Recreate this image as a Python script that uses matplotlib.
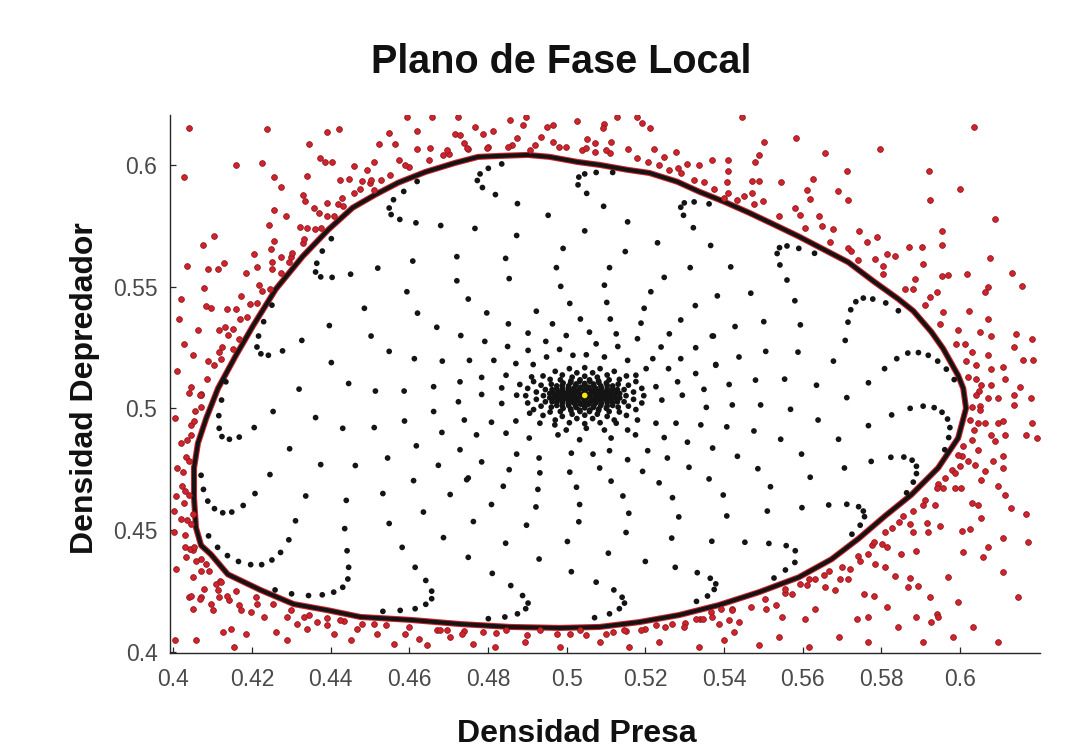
import numpy as np
import matplotlib
matplotlib.use("Agg")
import matplotlib.pyplot as plt

plt.rcParams['font.family'] = ['Liberation Sans', 'DejaVu Sans']

# ---------------- data ----------------
titulo = "Plano de Fase Local"
etiqueta_x = "Densidad Presa"
etiqueta_y = "Densidad Depredador"

xticks = [0.40, 0.42, 0.44, 0.46, 0.48, 0.50, 0.52, 0.54, 0.56, 0.58, 0.60]
xtick_labels = ['0.4', '0.42', '0.44', '0.46', '0.48', '0.5', '0.52', '0.54', '0.56', '0.58', '0.6']
yticks = [0.40, 0.45, 0.50, 0.55, 0.60]
ytick_labels = ['0.4', '0.45', '0.5', '0.55', '0.6']

equilibrio = (0.5046, 0.5053)

# closed orbit (limit cycle), clockwise from the left-most point
ciclo = [
    (0.4053, 0.4755), (0.4053, 0.4633), (0.4058, 0.4510), (0.4071, 0.4437), (0.4096, 0.4400),
    (0.4139, 0.4318), (0.4223, 0.4253), (0.4306, 0.4196), (0.4392, 0.4171), (0.4476, 0.4143),
    (0.4603, 0.4131), (0.4729, 0.4114), (0.4856, 0.4102), (0.4982, 0.4098), (0.5084, 0.4102),
    (0.5185, 0.4122), (0.5286, 0.4151), (0.5387, 0.4192), (0.5489, 0.4245), (0.5590, 0.4306),
    (0.5673, 0.4380), (0.5742, 0.4465), (0.5810, 0.4559), (0.5876, 0.4645), (0.5944, 0.4755),
    (0.5995, 0.4878), (0.6015, 0.5000), (0.6008, 0.5082), (0.5995, 0.5135), (0.5957, 0.5245),
    (0.5927, 0.5314), (0.5881, 0.5400), (0.5843, 0.5449), (0.5780, 0.5522), (0.5716, 0.5600),
    (0.5653, 0.5653), (0.5590, 0.5706), (0.5527, 0.5755), (0.5463, 0.5804), (0.5400, 0.5849),
    (0.5337, 0.5890), (0.5281, 0.5931), (0.5210, 0.5967), (0.5154, 0.5980), (0.5084, 0.6000),
    (0.5028, 0.6012), (0.4957, 0.6033), (0.4901, 0.6041), (0.4830, 0.6037), (0.4775, 0.6033),
    (0.4716, 0.6008), (0.4641, 0.5971), (0.4572, 0.5927), (0.4514, 0.5878), (0.4456, 0.5824),
    (0.4395, 0.5735), (0.4329, 0.5624), (0.4261, 0.5490), (0.4203, 0.5339), (0.4159, 0.5216),
    (0.4114, 0.5082), (0.4084, 0.4959), (0.4063, 0.4857), (0.4053, 0.4755),
]

# black trajectory samples (spiral arms)
espiral = [
    (0.4620, 0.5932), (0.4586, 0.5891), (0.4560, 0.5857), (0.4549, 0.5823), (0.4554, 0.5796),
    (0.4576, 0.5776), (0.4617, 0.5762), (0.4680, 0.5751), (0.4609, 0.5605), (0.4520, 0.5576),
    (0.4451, 0.5551), (0.4404, 0.5538), (0.4375, 0.5540), (0.4362, 0.5560), (0.4365, 0.5596),
    (0.4379, 0.5646), (0.4402, 0.5697), (0.4594, 0.5479), (0.4486, 0.5411), (0.4621, 0.5391),
    (0.4670, 0.5333), (0.4397, 0.5340), (0.4503, 0.5297), (0.4327, 0.5279), (0.4217, 0.5297),
    (0.4230, 0.5356), (0.4251, 0.5424), (0.4213, 0.5252), (0.4223, 0.5224), (0.4242, 0.5218),
    (0.4278, 0.5236), (0.4549, 0.5234), (0.4613, 0.5204), (0.4684, 0.5194), (0.4402, 0.5188),
    (0.4801, 0.5986), (0.4835, 0.6004), (0.4780, 0.5963), (0.4773, 0.5936), (0.4786, 0.5907),
    (0.4819, 0.5878), (0.4875, 0.5841), (0.4767, 0.5739), (0.4873, 0.5710), (0.4953, 0.5793),
    (0.4721, 0.5623), (0.4845, 0.5616), (0.4991, 0.5657), (0.5046, 0.5729), (0.5094, 0.5830),
    (0.5155, 0.5766), (0.5051, 0.5883), (0.5029, 0.5918), (0.5031, 0.5950), (0.5046, 0.5963),
    (0.5075, 0.5969), (0.5117, 0.5969), (0.5299, 0.5844), (0.5290, 0.5826), (0.5297, 0.5793),
    (0.5324, 0.5848), (0.5322, 0.5742), (0.5231, 0.5680), (0.5149, 0.5644), (0.4974, 0.5578),
    (0.5109, 0.5578), (0.5314, 0.5578), (0.5248, 0.5538), (0.4854, 0.5533), (0.4721, 0.5524),
    (0.4985, 0.5501), (0.5096, 0.5506),
    (0.5362, 0.5840), (0.5366, 0.5669), (0.5417, 0.5581), (0.5541, 0.5660), (0.5560, 0.5667),
    (0.5590, 0.5657), (0.5535, 0.5636), (0.5542, 0.5589), (0.5560, 0.5527), (0.5580, 0.5442),
    (0.5630, 0.5637), (0.5468, 0.5473), (0.5383, 0.5462), (0.5428, 0.5336), (0.5501, 0.5356),
    (0.5594, 0.5343), (0.5373, 0.5297), (0.5506, 0.5234), (0.5588, 0.5231), (0.5438, 0.5211),
    (0.5379, 0.5177), (0.5678, 0.5194), (0.5708, 0.5279), (0.5715, 0.5354), (0.5722, 0.5405),
    (0.5735, 0.5438), (0.5754, 0.5453), (0.5778, 0.5449), (0.5811, 0.5433), (0.5843, 0.5401),
    (0.5839, 0.5204), (0.5867, 0.5227), (0.5894, 0.5229), (0.5919, 0.5218), (0.5943, 0.5194),
    (0.5965, 0.5161), (0.5985, 0.5118), (0.5808, 0.5163), (0.5767, 0.5105), (0.5635, 0.5095),
    (0.5554, 0.5120), (0.5480, 0.5116), (0.5413, 0.5098), (0.5349, 0.5078), (0.5712, 0.5044),
    (0.5493, 0.5014), (0.5569, 0.4996), (0.5639, 0.4952), (0.5767, 0.4929), (0.5826, 0.4973),
    (0.5873, 0.5000), (0.5906, 0.5009), (0.5934, 0.5003), (0.5954, 0.4984), (0.5968, 0.4956),
    (0.5974, 0.4921), (0.5971, 0.4880), (0.5961, 0.4830), (0.5544, 0.4873), (0.5691, 0.4873),
    (0.5597, 0.4812), (0.5774, 0.4782), (0.5706, 0.4755), (0.5824, 0.4799), (0.5857, 0.4800),
    (0.5878, 0.4787), (0.5889, 0.4762), (0.5889, 0.4732), (0.5881, 0.4697), (0.5864, 0.4653),
    (0.5619, 0.4717), (0.5518, 0.4678), (0.5598, 0.4592), (0.5666, 0.4603), (0.5712, 0.4606),
    (0.5742, 0.4596), (0.5754, 0.4578), (0.5757, 0.4555), (0.5746, 0.4520), (0.5725, 0.4483),
    (0.5510, 0.4578), (0.5514, 0.4445), (0.5558, 0.4436), (0.5581, 0.4415),
    (0.5355, 0.5004), (0.5421, 0.5014), (0.5341, 0.4932), (0.5407, 0.4924), (0.5476, 0.4907),
    (0.5371, 0.4837), (0.5434, 0.4803), (0.5486, 0.4752), (0.5362, 0.4710), (0.5398, 0.4644),
    (0.5407, 0.4558), (0.5369, 0.4454), (0.5453, 0.4450), (0.5332, 0.4325), (0.5365, 0.4302),
    (0.5379, 0.4279), (0.5375, 0.4256), (0.5358, 0.4229), (0.5330, 0.4207), (0.5556, 0.4336),
    (0.5527, 0.4303), (0.5580, 0.4367),
    (0.5214, 0.5479), (0.4750, 0.5449), (0.5008, 0.5431), (0.5102, 0.5435), (0.5197, 0.5411),
    (0.5327, 0.5422), (0.4797, 0.5392), (0.4923, 0.5399), (0.5035, 0.5367), (0.5111, 0.5367),
    (0.5290, 0.5363), (0.4852, 0.5347), (0.4964, 0.5347), (0.5189, 0.5350), (0.4731, 0.5299),
    (0.4902, 0.5309), (0.4999, 0.5299), (0.5058, 0.5313), (0.5126, 0.5306), (0.5261, 0.5306),
    (0.5370, 0.5297), (0.4792, 0.5275), (0.4947, 0.5275), (0.5180, 0.5286), (0.4850, 0.5254),
    (0.4902, 0.5238), (0.4982, 0.5242), (0.5075, 0.5265), (0.5130, 0.5254), (0.5240, 0.5252),
    (0.5328, 0.5249), (0.4753, 0.5197), (0.4815, 0.5197), (0.4871, 0.5184), (0.4915, 0.5180),
    (0.4949, 0.5211), (0.5016, 0.5218), (0.5050, 0.5220), (0.5096, 0.5211), (0.5155, 0.5197),
    (0.5219, 0.5204), (0.5290, 0.5204), (0.5379, 0.5180), (0.4729, 0.5109), (0.4784, 0.5127),
    (0.4835, 0.5084), (0.4846, 0.5136), (0.4881, 0.5098), (0.4911, 0.5129), (0.5176, 0.5136),
    (0.5202, 0.5163), (0.5227, 0.5089), (0.5259, 0.5163), (0.5282, 0.5109), (0.5328, 0.5143),
    (0.4725, 0.5027), (0.4784, 0.5057), (0.4835, 0.5020), (0.4873, 0.5054), (0.5242, 0.5034),
    (0.5294, 0.5054), (0.4740, 0.4952), (0.4809, 0.4943), (0.4871, 0.4948), (0.4906, 0.4980),
    (0.4932, 0.4939), (0.4970, 0.4932), (0.4999, 0.4911), (0.5050, 0.4918), (0.5096, 0.4911),
    (0.5126, 0.4939), (0.5155, 0.4911), (0.5180, 0.4952), (0.5227, 0.4939), (0.5278, 0.4939),
    (0.4771, 0.4891), (0.4846, 0.4898), (0.4905, 0.4878), (0.4978, 0.4891), (0.5033, 0.4871),
    (0.5113, 0.4878), (0.5175, 0.4891), (0.5248, 0.4880), (0.5307, 0.4861), (0.4729, 0.4830),
    (0.4873, 0.4812), (0.4930, 0.4796), (0.5012, 0.4816), (0.5067, 0.4812), (0.5109, 0.4826),
    (0.5155, 0.4789), (0.5206, 0.4826), (0.4784, 0.4780), (0.4854, 0.4748), (0.4932, 0.4735),
    (0.5008, 0.4738), (0.5084, 0.4755), (0.5193, 0.4741), (0.5256, 0.4796), (0.5311, 0.4758),
    (0.4750, 0.4714), (0.4839, 0.4680), (0.4927, 0.4667), (0.5025, 0.4676), (0.5113, 0.4701),
    (0.5235, 0.4694), (0.4704, 0.4646), (0.5143, 0.4640), (0.5269, 0.4633),
    (0.4446, 0.5102), (0.4320, 0.5079), (0.4514, 0.5071), (0.4587, 0.5071), (0.4662, 0.5089),
    (0.4254, 0.4987), (0.4362, 0.4962), (0.4431, 0.4918), (0.4511, 0.4921), (0.4588, 0.4948),
    (0.4662, 0.4987), (0.4683, 0.4901), (0.4206, 0.4921), (0.4168, 0.4882), (0.4143, 0.4873),
    (0.4124, 0.4884), (0.4117, 0.4918), (0.4116, 0.4970), (0.4123, 0.5034), (0.4134, 0.5109),
    (0.4296, 0.4834), (0.4375, 0.4769), (0.4463, 0.4765), (0.4545, 0.4796), (0.4618, 0.4846),
    (0.4674, 0.4766), (0.4246, 0.4728), (0.4611, 0.4703), (0.4337, 0.4640), (0.4440, 0.4622),
    (0.4533, 0.4650), (0.4636, 0.4574), (0.4208, 0.4650), (0.4178, 0.4601), (0.4149, 0.4574),
    (0.4126, 0.4571), (0.4105, 0.4588), (0.4088, 0.4619), (0.4077, 0.4667), (0.4071, 0.4725),
    (0.4311, 0.4538), (0.4436, 0.4506), (0.4549, 0.4527), (0.4582, 0.4429), (0.4294, 0.4460),
    (0.4273, 0.4408), (0.4251, 0.4377), (0.4225, 0.4358), (0.4197, 0.4358), (0.4166, 0.4371),
    (0.4138, 0.4395), (0.4113, 0.4429), (0.4090, 0.4476), (0.4442, 0.4415), (0.4446, 0.4347),
    (0.4444, 0.4299), (0.4431, 0.4265), (0.4408, 0.4245), (0.4379, 0.4234), (0.4344, 0.4231),
    (0.4301, 0.4238), (0.4259, 0.4254), (0.4615, 0.4347), (0.4642, 0.4293), (0.4657, 0.4249),
    (0.4657, 0.4218), (0.4642, 0.4195), (0.4687, 0.4469),
    (0.4763, 0.4535), (0.4750, 0.4388), (0.4746, 0.4707), (0.4615, 0.4177), (0.4577, 0.4170),
    (0.4533, 0.4166),
    (0.4809, 0.4605), (0.4922, 0.4595), (0.5033, 0.4605), (0.4898, 0.4520), (0.5031, 0.4534),
    (0.5158, 0.4569), (0.5285, 0.4554), (0.4845, 0.4446), (0.5002, 0.4453), (0.5151, 0.4490),
    (0.5267, 0.4467), (0.4930, 0.4381), (0.5106, 0.4405), (0.5200, 0.4371), (0.5276, 0.4347),
    (0.4811, 0.4322), (0.5012, 0.4329), (0.5075, 0.4286), (0.5120, 0.4254), (0.5141, 0.4224),
    (0.5147, 0.4200), (0.5134, 0.4177), (0.5109, 0.4156), (0.4858, 0.4272), (0.4888, 0.4231),
    (0.4902, 0.4200), (0.4896, 0.4177), (0.4875, 0.4156), (0.4843, 0.4143), (0.4801, 0.4136),
    (0.5071, 0.4140),
]

nucleo = [
    (0.5196, 0.5052), (0.5191, 0.5082), (0.5176, 0.5110), (0.5152, 0.5133), (0.5121, 0.5152),
    (0.5085, 0.5163), (0.5046, 0.5167), (0.5007, 0.5163), (0.4971, 0.5152), (0.4940, 0.5133),
    (0.4916, 0.5110), (0.4901, 0.5082), (0.4896, 0.5052), (0.4901, 0.5022), (0.4916, 0.4995),
    (0.4940, 0.4971), (0.4971, 0.4952), (0.5007, 0.4941), (0.5046, 0.4937), (0.5085, 0.4941),
    (0.5121, 0.4952), (0.5152, 0.4971), (0.5176, 0.4995), (0.5191, 0.5022),
    (0.5170, 0.5067), (0.5157, 0.5095), (0.5134, 0.5119), (0.5103, 0.5137), (0.5066, 0.5146),
    (0.5026, 0.5146), (0.4989, 0.5137), (0.4958, 0.5119), (0.4935, 0.5095), (0.4923, 0.5067),
    (0.4923, 0.5037), (0.4935, 0.5009), (0.4958, 0.4985), (0.4989, 0.4967), (0.5026, 0.4958),
    (0.5066, 0.4958), (0.5103, 0.4967), (0.5134, 0.4985), (0.5157, 0.5009), (0.5170, 0.5037),
    (0.5151, 0.5052), (0.5146, 0.5077), (0.5131, 0.5099), (0.5108, 0.5117), (0.5078, 0.5128),
    (0.5046, 0.5132), (0.5014, 0.5128), (0.4984, 0.5117), (0.4961, 0.5099), (0.4946, 0.5077),
    (0.4941, 0.5052), (0.4946, 0.5027), (0.4961, 0.5005), (0.4984, 0.4987), (0.5014, 0.4976),
    (0.5046, 0.4972), (0.5078, 0.4976), (0.5108, 0.4987), (0.5131, 0.5005), (0.5146, 0.5027),
    (0.5135, 0.5061), (0.5129, 0.5077), (0.5117, 0.5092), (0.5101, 0.5104), (0.5081, 0.5113),
    (0.5058, 0.5117), (0.5034, 0.5117), (0.5011, 0.5113), (0.4991, 0.5104), (0.4975, 0.5092),
    (0.4963, 0.5077), (0.4957, 0.5061), (0.4957, 0.5043), (0.4963, 0.5027), (0.4975, 0.5012),
    (0.4991, 0.5000), (0.5011, 0.4991), (0.5034, 0.4987), (0.5058, 0.4987), (0.5081, 0.4991),
    (0.5101, 0.5000), (0.5117, 0.5012), (0.5129, 0.5027), (0.5135, 0.5043),
    (0.5125, 0.5061), (0.5117, 0.5079), (0.5103, 0.5094), (0.5082, 0.5106), (0.5059, 0.5111),
    (0.5033, 0.5111), (0.5010, 0.5106), (0.4989, 0.5094), (0.4975, 0.5079), (0.4967, 0.5061),
    (0.4967, 0.5043), (0.4975, 0.5025), (0.4989, 0.5010), (0.5010, 0.4998), (0.5033, 0.4993),
    (0.5059, 0.4993), (0.5082, 0.4998), (0.5103, 0.5010), (0.5117, 0.5025), (0.5125, 0.5043),
    (0.5116, 0.5052), (0.5113, 0.5067), (0.5103, 0.5081), (0.5087, 0.5092), (0.5068, 0.5100),
    (0.5046, 0.5102), (0.5024, 0.5100), (0.5005, 0.5092), (0.4989, 0.5081), (0.4979, 0.5067),
    (0.4976, 0.5052), (0.4979, 0.5037), (0.4989, 0.5023), (0.5005, 0.5012), (0.5024, 0.5004),
    (0.5046, 0.5002), (0.5068, 0.5004), (0.5087, 0.5012), (0.5103, 0.5023), (0.5113, 0.5037),
    (0.5106, 0.5052), (0.5101, 0.5069), (0.5088, 0.5083), (0.5069, 0.5093), (0.5046, 0.5096),
    (0.5023, 0.5093), (0.5004, 0.5083), (0.4991, 0.5069), (0.4986, 0.5052), (0.4991, 0.5035),
    (0.5004, 0.5021), (0.5023, 0.5011), (0.5046, 0.5008), (0.5069, 0.5011), (0.5088, 0.5021),
    (0.5101, 0.5035),
    (0.5095, 0.5059), (0.5088, 0.5072), (0.5074, 0.5082), (0.5056, 0.5087), (0.5036, 0.5087),
    (0.5018, 0.5082), (0.5004, 0.5072), (0.4997, 0.5059), (0.4997, 0.5045), (0.5004, 0.5032),
    (0.5018, 0.5022), (0.5036, 0.5017), (0.5056, 0.5017), (0.5074, 0.5022), (0.5088, 0.5032),
    (0.5095, 0.5045),
    (0.5087, 0.5060), (0.5076, 0.5073), (0.5057, 0.5081), (0.5035, 0.5081), (0.5016, 0.5073),
    (0.5005, 0.5060), (0.5005, 0.5044), (0.5016, 0.5031), (0.5035, 0.5023), (0.5057, 0.5023),
    (0.5076, 0.5031), (0.5087, 0.5044),
    (0.5080, 0.5052), (0.5075, 0.5064), (0.5063, 0.5073), (0.5046, 0.5076), (0.5029, 0.5073),
    (0.5017, 0.5064), (0.5012, 0.5052), (0.5017, 0.5040), (0.5029, 0.5031), (0.5046, 0.5028),
    (0.5063, 0.5031), (0.5075, 0.5040),
    (0.5072, 0.5052), (0.5064, 0.5065), (0.5046, 0.5070), (0.5028, 0.5065), (0.5020, 0.5052),
    (0.5028, 0.5039), (0.5046, 0.5034), (0.5064, 0.5039),
    (0.5058, 0.5052), (0.5052, 0.5059), (0.5040, 0.5059), (0.5034, 0.5052), (0.5040, 0.5045),
    (0.5052, 0.5045), (0.5046, 0.5052),
]

# red noisy observations outside the orbit
ruido = [
    (0.4041, 0.6152), (0.4238, 0.6146), (0.4392, 0.6136), (0.4421, 0.6146), (0.4594, 0.6195),
    (0.4657, 0.6195), (0.4723, 0.6195), (0.4548, 0.6133), (0.4619, 0.6139), (0.4716, 0.6127),
    (0.4345, 0.6084), (0.4524, 0.6086), (0.4563, 0.6084), (0.4619, 0.6064), (0.4653, 0.6068),
    (0.4695, 0.6061), (0.4027, 0.5950), (0.4159, 0.6000), (0.4227, 0.6007), (0.4372, 0.6030),
    (0.4386, 0.6011), (0.4403, 0.6013), (0.4459, 0.5996), (0.4510, 0.6013), (0.4573, 0.6020),
    (0.4590, 0.6000), (0.4687, 0.6041), (0.4256, 0.5950), (0.4341, 0.5955), (0.4425, 0.5936),
    (0.4448, 0.5942), (0.4480, 0.5932), (0.4504, 0.5939), (0.4528, 0.5939), (0.4493, 0.5980),
    (0.4474, 0.5901), (0.4510, 0.5898), (0.4273, 0.5911), (0.4330, 0.5878), (0.4335, 0.5853),
    (0.4392, 0.5844), (0.4430, 0.5864), (0.4432, 0.5830), (0.4358, 0.5823), (0.4370, 0.5803),
    (0.4256, 0.5816), (0.4286, 0.5789), (0.4244, 0.5755), (0.4322, 0.5746), (0.4341, 0.5742),
    (0.4375, 0.5742), (0.4408, 0.5789), (0.4105, 0.5707), (0.4075, 0.5669), (0.4256, 0.5687),
    (0.4332, 0.5694), (0.4248, 0.5653), (0.4273, 0.5623), (0.4303, 0.5637), (0.4206, 0.5633),
    (0.4035, 0.5585), (0.4088, 0.5574), (0.4113, 0.5574), (0.4130, 0.5595), (0.4252, 0.5601),
    (0.4252, 0.5571), (0.4294, 0.5601), (0.4213, 0.5581), (0.4185, 0.5558), (0.4078, 0.5493),
    (0.4172, 0.5462), (0.4217, 0.5506), (0.4227, 0.5483),
    (0.4063, 0.5320), (0.4116, 0.5320), (0.4132, 0.5333), (0.4151, 0.5327), (0.4096, 0.5411),
    (0.4138, 0.5408), (0.4161, 0.5408), (0.4213, 0.5433), (0.4187, 0.5374), (0.4050, 0.5218),
    (0.4088, 0.5193), (0.4117, 0.5231), (0.4122, 0.5204), (0.4046, 0.5089), (0.4071, 0.5054),
    (0.4084, 0.5422), (0.4168, 0.5286), (0.4151, 0.5245),
    (0.4041, 0.5061), (0.4067, 0.5054), (0.4071, 0.5007), (0.4054, 0.4946), (0.4046, 0.4891),
    (0.4041, 0.4782), (0.4041, 0.4646), (0.4050, 0.4564), (0.4046, 0.4524), (0.4043, 0.4422),
    (0.4058, 0.4374), (0.4084, 0.4360), (0.4050, 0.4306), (0.4071, 0.4333), (0.4109, 0.4279),
    (0.4079, 0.4258), (0.4041, 0.4224), (0.4071, 0.4224), (0.4117, 0.4224), (0.4143, 0.4211),
    (0.4096, 0.4197), (0.4168, 0.4191),
    (0.4008, 0.4640), (0.4029, 0.4660), (0.4003, 0.4578), (0.4020, 0.4544), (0.4003, 0.4490),
    (0.4029, 0.4429), (0.4054, 0.4429), (0.4033, 0.4388), (0.4008, 0.4340), (0.4046, 0.4231),
    (0.4067, 0.4218), (0.4050, 0.4177), (0.4101, 0.4170), (0.4122, 0.4286), (0.4113, 0.4252),
    (0.4138, 0.4231), (0.4172, 0.4170), (0.4197, 0.4163), (0.4147, 0.4095), (0.4126, 0.4082),
    (0.4185, 0.4075), (0.4214, 0.4197), (0.4231, 0.4143), (0.4261, 0.4082), (0.4290, 0.4048),
    (0.4290, 0.4143), (0.4316, 0.4116), (0.4332, 0.4143), (0.4341, 0.4095), (0.4366, 0.4122),
    (0.4392, 0.4109), (0.4408, 0.4075), (0.4425, 0.4129), (0.4451, 0.4048), (0.4468, 0.4095),
    (0.4510, 0.4116), (0.4518, 0.4075), (0.4560, 0.4034), (0.4590, 0.4075), (0.4624, 0.4054),
    (0.4645, 0.4027), (0.4678, 0.4088), (0.4704, 0.4061), (0.4733, 0.4075), (0.4763, 0.4034),
    (0.4155, 0.4020), (0.4005, 0.4048), (0.4058, 0.4048),
    (0.4695, 0.4088), (0.4788, 0.4082), (0.4847, 0.4088), (0.4932, 0.4088), (0.5008, 0.4075),
    (0.5033, 0.4088), (0.5117, 0.4082), (0.5147, 0.4088), (0.5189, 0.4088), (0.5227, 0.4109),
    (0.5269, 0.4116), (0.5299, 0.4102), (0.5328, 0.4136), (0.5366, 0.4163), (0.5387, 0.4116),
    (0.5413, 0.4129), (0.5421, 0.4170), (0.5425, 0.4082),
    (0.5906, 0.4605), (0.5940, 0.4673), (0.5915, 0.4531), (0.5873, 0.4524), (0.5856, 0.4558),
    (0.5826, 0.4510), (0.5881, 0.4490), (0.5919, 0.4490), (0.5801, 0.4442), (0.5813, 0.4429),
    (0.5782, 0.4449), (0.5850, 0.4401), (0.5889, 0.4415), (0.5767, 0.4401), (0.5746, 0.4374),
    (0.5784, 0.4360), (0.5809, 0.4347), (0.5873, 0.4303), (0.5894, 0.4272), (0.5721, 0.4340),
    (0.5695, 0.4299), (0.5716, 0.4299), (0.5683, 0.4252), (0.5657, 0.4265), (0.5632, 0.4299),
    (0.5615, 0.4299), (0.5666, 0.4333), (0.5594, 0.4279), (0.5573, 0.4238), (0.5554, 0.4258),
    (0.5755, 0.4238), (0.5780, 0.4231), (0.5813, 0.4184), (0.5767, 0.4143), (0.5738, 0.4136),
    (0.5632, 0.4177), (0.5607, 0.4136), (0.5548, 0.4143), (0.5531, 0.4191), (0.5506, 0.4177),
    (0.5468, 0.4184), (0.5438, 0.4122), (0.5392, 0.4177), (0.5370, 0.4143), (0.5346, 0.4136),
    (0.5923, 0.4224), (0.5868, 0.4265), (0.5889, 0.4143), (0.5940, 0.4156), (0.5927, 0.4122),
    (0.5835, 0.4313),
    (0.5957, 0.5395), (0.6022, 0.5401), (0.6071, 0.5367), (0.5995, 0.5320), (0.6050, 0.5313),
    (0.6079, 0.5299), (0.6143, 0.5306), (0.6182, 0.5286), (0.6012, 0.5265), (0.6029, 0.5231),
    (0.6071, 0.5218), (0.6137, 0.5252), (0.6159, 0.5197), (0.6185, 0.5197), (0.6041, 0.5177),
    (0.6079, 0.5163), (0.6109, 0.5170), (0.6020, 0.5129), (0.6054, 0.5095), (0.6079, 0.5095),
    (0.6113, 0.5122), (0.6151, 0.5089), (0.6041, 0.5054), (0.6071, 0.5041), (0.6095, 0.5041),
    (0.6137, 0.5054), (0.6181, 0.5044), (0.6029, 0.5007), (0.6050, 0.4993), (0.6138, 0.5014),
    (0.6024, 0.4952), (0.6062, 0.4939), (0.6096, 0.4939), (0.6109, 0.4946), (0.6183, 0.4939),
    (0.6035, 0.4911), (0.6079, 0.4891), (0.6113, 0.4891), (0.6168, 0.4891), (0.6195, 0.4878),
    (0.6008, 0.4844), (0.6046, 0.4830), (0.6088, 0.4864), (0.5995, 0.4810), (0.6020, 0.4782),
    (0.6037, 0.4769), (0.6084, 0.4782), (0.6109, 0.4803), (0.6109, 0.4755), (0.5999, 0.4762),
    (0.5987, 0.4735), (0.6062, 0.4741), (0.6054, 0.4707), (0.6096, 0.4680), (0.6113, 0.4646),
    (0.5961, 0.4714), (0.5957, 0.4673), (0.5987, 0.4673), (0.6001, 0.4673), (0.6029, 0.4612),
    (0.6046, 0.4605), (0.6130, 0.4592), (0.6168, 0.4564), (0.6054, 0.4551), (0.6005, 0.4497),
    (0.6024, 0.4503), (0.6109, 0.4469), (0.6071, 0.4429), (0.5936, 0.4605), (0.5948, 0.4517),
    (0.6035, 0.6156), (0.5797, 0.6064), (0.5584, 0.6109), (0.5501, 0.6093), (0.5657, 0.6048),
    (0.5489, 0.6041), (0.5478, 0.6011), (0.5921, 0.5976), (0.5712, 0.5976), (0.5999, 0.5901),
    (0.5923, 0.5854), (0.6088, 0.5776), (0.5545, 0.5928), (0.5625, 0.5942), (0.5472, 0.5932),
    (0.5489, 0.5935), (0.5470, 0.5884), (0.5611, 0.5898), (0.5689, 0.5891), (0.5619, 0.5860),
    (0.5716, 0.5857), (0.5500, 0.5853), (0.5581, 0.5823), (0.5594, 0.5796), (0.5641, 0.5789),
    (0.5678, 0.5735), (0.5649, 0.5748), (0.5742, 0.5728), (0.5788, 0.5703), (0.5763, 0.5683),
    (0.5870, 0.5664), (0.5902, 0.5664), (0.5954, 0.5728), (0.5954, 0.5671), (0.5906, 0.5592),
    (0.5813, 0.5633), (0.5835, 0.5626), (0.5784, 0.5615), (0.5803, 0.5585), (0.5715, 0.5660),
    (0.5723, 0.5646), (0.6077, 0.5619), (0.6132, 0.5558), (0.6157, 0.5503), (0.6018, 0.5551),
    (0.5953, 0.5545), (0.5970, 0.5547), (0.6071, 0.5497), (0.6064, 0.5476), (0.5940, 0.5479),
    (0.5885, 0.5531), (0.5881, 0.5490), (0.5923, 0.5456),
    (0.5128, 0.6195), (0.5179, 0.6197), (0.5446, 0.6197), (0.4898, 0.6195), (0.4856, 0.6184),
    (0.4767, 0.6156), (0.4813, 0.6139), (0.4889, 0.6163), (0.4949, 0.6154), (0.4965, 0.6163),
    (0.5027, 0.6181), (0.5096, 0.6170), (0.5092, 0.6150), (0.5192, 0.6173), (0.5213, 0.6150),
    (0.4729, 0.6122), (0.4787, 0.6125), (0.4873, 0.6109), (0.4936, 0.6113), (0.5052, 0.6105),
    (0.5113, 0.6095), (0.4746, 0.6071), (0.4797, 0.6071), (0.4852, 0.6075), (0.4906, 0.6061),
    (0.4965, 0.6095), (0.4999, 0.6075), (0.5071, 0.6089), (0.5100, 0.6061), (0.5155, 0.6064),
    (0.5223, 0.6064), (0.5278, 0.6054), (0.5370, 0.6020), (0.5411, 0.6020), (0.5248, 0.6034),
    (0.5307, 0.6004), (0.5337, 0.6000), (0.5261, 0.5980), (0.5282, 0.5987), (0.5411, 0.5973),
    (0.5324, 0.5939), (0.5375, 0.5901), (0.5408, 0.5928), (0.5451, 0.5871), (0.5400, 0.5864),
    (0.5434, 0.5857), (0.5206, 0.6013), (0.4738, 0.6089), (0.5050, 0.6068), (0.5071, 0.6054),
    (0.6058, 0.4388), (0.6109, 0.4327), (0.6147, 0.4224), (0.5995, 0.4204), (0.6033, 0.4102),
    (0.6096, 0.4041), (0.5970, 0.4306), (0.6008, 0.4408), (0.6172, 0.4449), (0.5944, 0.4143),
    (0.5982, 0.4061), (0.5906, 0.4041), (0.5843, 0.4102), (0.5767, 0.4041), (0.5691, 0.4061),
    (0.5615, 0.4020), (0.5539, 0.4061), (0.5489, 0.4029), (0.5400, 0.4049), (0.5337, 0.4020),
    (0.5235, 0.4041), (0.5159, 0.4020), (0.5084, 0.4041), (0.4982, 0.4020), (0.4894, 0.4041),
    (0.4818, 0.4020),
    (0.4015, 0.5367), (0.4028, 0.5265), (0.4010, 0.5155), (0.4020, 0.5449), (0.4005, 0.4959),
    (0.4020, 0.4857), (0.4010, 0.4755),
]

# red observations crowded just outside the orbit
ruido_borde = [
    (0.4170, 0.5365), (0.4125, 0.5250), (0.4085, 0.5120), (0.4055, 0.4990), (0.4035, 0.4870),
    (0.4025, 0.4740), (0.4028, 0.4610), (0.4030, 0.4480), (0.4070, 0.4380), (0.4120, 0.4290),
    (0.4210, 0.4225), (0.4300, 0.4170), (0.4390, 0.4140), (0.4480, 0.4115), (0.4600, 0.4100),
    (0.4740, 0.4085), (0.4900, 0.4070), (0.5050, 0.4070), (0.5150, 0.4085), (0.5250, 0.4100),
    (0.5340, 0.4135), (0.5505, 0.4215), (0.5610, 0.4275), (0.5700, 0.4350), (0.5775, 0.4440),
    (0.5845, 0.4535), (0.5910, 0.4625), (0.5980, 0.4745), (0.6030, 0.4870), (0.6050, 0.5010),
    (0.6040, 0.5120), (0.5990, 0.5265), (0.5910, 0.5425), (0.5805, 0.5550), (0.5670, 0.5685),
    (0.5540, 0.5790), (0.5410, 0.5885), (0.5290, 0.5965), (0.5180, 0.6030), (0.5040, 0.6060),
    (0.4920, 0.6080), (0.4800, 0.6075), (0.4700, 0.6045), (0.4600, 0.5990), (0.4500, 0.5925),
    (0.4420, 0.5840), (0.4360, 0.5735), (0.4300, 0.5620), (0.4245, 0.5490),
    (0.4195, 0.5430), (0.4140, 0.5300), (0.4105, 0.5180), (0.4072, 0.5060), (0.4045, 0.4930),
    (0.4032, 0.4800), (0.4022, 0.4680), (0.4035, 0.4540), (0.4050, 0.4420), (0.4090, 0.4330),
    (0.4160, 0.4250), (0.4255, 0.4195), (0.4345, 0.4150), (0.4435, 0.4125), (0.4540, 0.4108),
    (0.4670, 0.4090), (0.4820, 0.4078), (0.4975, 0.4072), (0.5100, 0.4075), (0.5200, 0.4095),
    (0.5300, 0.4120), (0.5420, 0.4175), (0.5555, 0.4240), (0.5655, 0.4315), (0.5740, 0.4395),
    (0.5810, 0.4490), (0.5880, 0.4580), (0.5945, 0.4690), (0.6005, 0.4805), (0.6045, 0.4940),
    (0.6048, 0.5070), (0.6015, 0.5195), (0.5950, 0.5345), (0.5860, 0.5490), (0.5740, 0.5610),
    (0.5605, 0.5740), (0.5475, 0.5840), (0.5350, 0.5930), (0.5235, 0.6000), (0.5110, 0.6050),
    (0.4980, 0.6075), (0.4860, 0.6082), (0.4750, 0.6065), (0.4650, 0.6020), (0.4550, 0.5960),
    (0.4460, 0.5885), (0.4390, 0.5790), (0.4330, 0.5680), (0.4275, 0.5555),
]

# ---------------- figure ----------------
W, H = 1076, 749
fig = plt.figure(figsize=(W / 100, H / 100), dpi=100)
ax = fig.add_axes([170 / W, (H - 653) / H, 870 / W, 538 / H])

ciclo_a = np.array(ciclo)
esp_a = np.array(espiral)
nuc_a = np.array(nucleo)
rui_a = np.array(ruido)
bor_a = np.array(ruido_borde)

rojo = '#d3232a'
rojo_borde = '#8e1a22'
negro = '#141414'

# orbit band (red observations lying on it) and the black orbit
ax.plot(ciclo_a[:, 0], ciclo_a[:, 1], color=rojo, lw=4.4, solid_capstyle='round',
        solid_joinstyle='round', zorder=2)
ax.plot(ciclo_a[:, 0], ciclo_a[:, 1], color=negro, lw=2.9, solid_joinstyle='round', zorder=3)

# black trajectory samples
ax.scatter(esp_a[:, 0], esp_a[:, 1], s=17, color=negro, edgecolors='none', zorder=4)
ax.scatter(nuc_a[:, 0], nuc_a[:, 1], s=17, color=negro, edgecolors='none', zorder=4)

# red noisy observations
ax.scatter(bor_a[:, 0], bor_a[:, 1], s=17, color=rojo, edgecolors=rojo_borde,
           linewidths=0.6, zorder=5)
ax.scatter(rui_a[:, 0], rui_a[:, 1], s=17, color=rojo, edgecolors=rojo_borde,
           linewidths=0.6, zorder=5)

# equilibrium point
ax.scatter([equilibrio[0]], [equilibrio[1]], s=16, color='#ffe800', edgecolors='none', zorder=6)

ax.set_xlim(0.3992, 0.6203)
ax.set_ylim(0.3995, 0.6205)

ax.set_xticks(xticks)
ax.set_xticklabels(xtick_labels)
ax.set_yticks(yticks)
ax.set_yticklabels(ytick_labels)

for side in ('top', 'right'):
    ax.spines[side].set_visible(False)
for side in ('left', 'bottom'):
    ax.spines[side].set_color('#262626')
    ax.spines[side].set_linewidth(1.0)

ax.tick_params(axis='both', direction='in', length=4, width=0.9, colors='#262626',
               labelcolor='#4a4a4a', labelsize=16.5)
ax.tick_params(axis='x', pad=11)
ax.tick_params(axis='y', pad=9)

fig.text(561 / W, 1 - 73 / H, titulo, ha='center', va='baseline',
         fontsize=28.5, fontweight='bold', color='#111111')
fig.text(577 / W, 1 - 742 / H, etiqueta_x, ha='center', va='baseline',
         fontsize=23, fontweight='bold', color='#111111')
fig.text(85 / W, 1 - 388 / H, etiqueta_y, ha='center', va='center', rotation=90,
         fontsize=23, fontweight='bold', color='#111111')

fig.savefig('out.png', dpi=100, facecolor='white')
